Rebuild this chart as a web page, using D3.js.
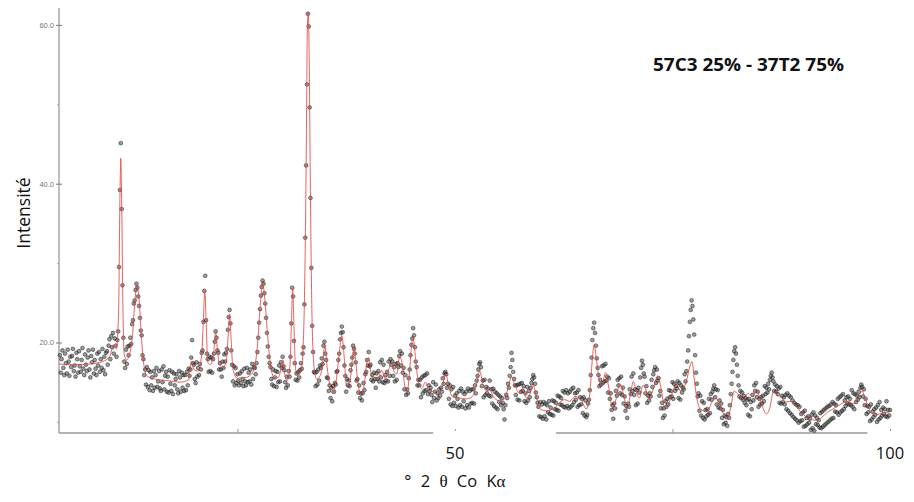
<!DOCTYPE html>
<html><head><meta charset="utf-8">
<script src="https://cdn.jsdelivr.net/npm/d3@7"></script>
<style>body{margin:0;background:#fff}svg{display:block}</style>
</head><body><svg id="c" width="914" height="502"></svg>
<script>
// ---------- DATA ----------
const chartTitle = "57C3 25% - 37T2 75%";
const yLabel = "Intensité";
const yTicks = [20, 40, 60];
const yMinorTicks = [10, 30, 50];
const xTicks = [25, 50, 75, 100];
const xTickLabels = [50, 100];

// calculated profile (red line): [2θ, intensity]
const calcProfile = [
[4.5,17.3],[6,17.2],[8,17.3],[9.5,17.6],[10.3,18.2],[10.8,19.6],[11.1,19.2],[11.35,24],[11.5,38],[11.6,43.2],[11.7,38],[11.85,24],
[12.0,18.5],[12.25,17.8],[12.6,18.5],[12.95,21],[13.2,25],[13.45,27.1],[13.7,25.5],[13.95,21],[14.25,17.2],[14.6,15.8],[15.5,15.4],
[17,15.2],[18.5,15.0],[19.4,15.3],[19.7,17.6],[20.0,16.6],[20.5,16.4],[20.9,18.5],[21.1,23],[21.25,26.5],[21.4,23],[21.6,17.5],
[21.9,17.2],[22.3,19],[22.5,21.3],[22.7,19.2],[22.9,17.4],[23.3,16.8],[23.7,17.5],[23.95,21],[24.1,23.6],[24.25,21],[24.5,16.6],
[25,15.5],[26,15.6],[26.8,16.3],[27.3,19.5],[27.65,25],[27.9,27.5],[28.15,25.5],[28.5,20.5],[28.9,16.5],[29.3,15.5],[29.7,15.6],
[30.05,16.8],[30.25,17.8],[30.45,16.0],[30.7,15.2],[31.0,16.5],[31.2,22],[31.35,26.8],[31.5,22],[31.7,16.5],[32.0,15.8],[32.4,17],
[32.7,25],[32.9,42],[33.05,60],[33.15,61.5],[33.25,56],[33.4,38],[33.6,22],[33.85,16.5],[34.1,15.4],[34.5,15.8],[34.8,17.2],
[35.05,19.7],[35.3,17.0],[35.6,14.8],[35.9,13.6],[36.3,14.8],[36.7,18.5],[37.0,20.9],[37.25,18.5],[37.55,14.5],[37.9,14.8],
[38.2,17.8],[38.4,19.4],[38.6,17.5],[38.9,14.6],[39.2,13.3],[39.6,14.8],[39.9,17.6],[40.1,18.1],[40.35,16.2],[40.7,15.4],
[41.2,15.6],[41.6,16.5],[42.0,15.4],[42.4,16.6],[42.75,17.5],[43.0,16.4],[43.3,16.0],[43.65,18.2],[43.9,17.6],[44.2,14.8],
[44.5,13.6],[44.8,16.5],[45.0,19.5],[45.2,20.6],[45.45,18.2],[45.8,15.0],[46.2,14.2],[46.6,15.0],[47.0,14.0],[47.5,13.8],
[48.0,13.5],[48.5,14.3],[48.95,16.0],[49.3,14.4],[49.7,13.2],[50.5,13.0],[51.3,12.9],[52.0,13.2],[52.5,14.8],[52.85,16.4],
[53.2,14.8],[53.6,13.9],[54.0,14.2],[54.4,13.2],[55.0,12.7],[55.6,12.8],[56.1,14.2],[56.5,15.7],[56.9,14.6],[57.4,13.6],
[57.8,14.2],[58.2,13.0],[58.6,13.5],[59.0,14.6],[59.4,13.0],[59.8,11.6],[60.5,11.4],[61.3,11.6],[62.0,12.4],[62.6,12.8],
[63.2,12.6],[63.8,13.2],[64.5,12.8],[65.1,11.6],[65.5,13.5],[65.8,18.0],[66.0,19.7],[66.25,18.0],[66.6,15.2],[66.9,14.5],
[67.3,16.2],[67.7,14.2],[68.1,11.8],[68.5,12.8],[68.95,14.8],[69.4,13.4],[69.8,11.6],[70.2,13.6],[70.5,15.1],[70.9,13.6],
[71.2,13.0],[71.6,14.6],[71.9,14.2],[72.3,12.9],[72.7,13.8],[73.3,15.8],[73.7,14.2],[74.1,11.8],[74.6,12.4],[75.0,13.7],
[75.5,14.8],[75.9,13.9],[76.3,14.2],[76.7,15.6],[77.0,17.0],[77.25,17.6],[77.5,15.4],[77.8,13.0],[78.2,11.6],[78.6,11.4],
[79.0,11.3],[79.5,12.4],[79.9,13.0],[80.3,12.6],[80.8,11.2],[81.3,10.4],[81.7,11.8],[82.1,13.9],[82.4,13.6],[82.8,13.2],
[83.2,12.8],[83.7,13.6],[84.2,13.2],[84.7,13.9],[85.2,12.4],[85.8,11.0],[86.2,11.8],[86.6,13.8],[87.0,13.4],[87.5,13.1],
[88.0,12.5],[88.6,12.6],[89.2,11.9],[89.8,11.2],[90.4,10.6],[91.0,10.3],[91.6,10.2],[92.2,10.6],[92.8,11.2],[93.4,11.6],
[94.0,12.0],[94.6,12.4],[95.2,12.6],[95.8,12.3],[96.3,12.9],[96.8,13.9],[97.1,13.1],[97.6,11.6],[98.2,10.9],[98.8,11.0],
[99.4,11.2],[100,11.0]
];

// observed intensities, 2θ from 4.6 in steps of 0.1
const obsStart = 4.6, obsStep = 0.1;
const obsInt = [
18.4,16.2,17.9,19.0,
16.8,15.9,18.6,17.4,16.1,19.1,17.6,15.8,18.2,16.9,
18.3,19.2,16.4,17.1,15.7,18.7,17.9,16.2,18.9,17.0,
16.3,17.8,19.3,16.7,15.9,18.5,17.2,16.4,18.1,19.0,
16.6,15.6,18.3,17.5,19.1,16.1,17.8,16.7,15.9,18.6,
17.1,18.8,16.3,17.9,16.8,19.2,16.5,18.2,16.0,18.7,
18.9,17.2,19.6,20.4,17.9,20.8,19.4,21.2,18.6,20.5,
19.6,18.2,20.3,21.4,29.5,39.2,45.1,36.8,27.2,20.6,
17.6,16.8,19.1,17.3,19.5,18.4,19.6,20.6,19.8,22.3,
22.8,24.9,25.3,26.6,27.4,26.9,25.8,24.6,23.1,21.5,
20.9,18.4,17.9,15.9,16.6,14.7,16.9,14.4,16.5,14.0,
16.3,14.6,15.6,13.9,16.4,14.3,15.9,16.8,14.4,15.1,
16.4,14.2,13.9,16.6,15.0,17.0,14.1,15.8,16.3,13.8,
15.7,13.7,16.5,14.8,13.9,16.3,13.5,16.1,14.6,15.4,
16.0,14.1,13.6,16.4,15.6,13.8,16.2,14.3,15.9,13.9,
15.9,14.0,16.3,14.6,16.7,15.8,16.6,18.1,20.3,17.4,
17.2,15.4,14.9,17.5,15.7,16.8,15.9,17.3,16.6,18.7,
19.0,22.6,26.5,28.4,22.8,18.6,17.9,16.3,18.2,16.4,
18.1,16.2,17.9,18.6,20.1,21.4,20.6,19.0,18.7,16.6,
17.4,16.6,15.7,17.6,16.8,18.5,17.6,18.7,19.2,21.6,
23.2,24.1,22.4,19.0,17.2,15.1,17.0,14.6,16.8,14.9,
16.0,15.2,14.6,16.1,14.9,16.4,15.4,14.5,16.7,15.1,
14.6,16.8,15.0,16.2,15.1,16.6,14.7,17.3,15.4,16.9,
16.8,16.0,17.4,18.8,20.6,22.5,24.2,25.9,27.0,27.8,
27.4,26.2,24.9,23.1,21.2,19.5,18.2,17.4,16.9,15.4,
14.7,16.6,14.5,15.6,16.4,14.4,16.3,15.0,17.1,15.1,
17.5,16.8,18.2,17.0,16.5,15.0,14.3,15.7,14.6,16.4,
15.7,18.2,22.4,26.9,25.8,20.2,17.4,15.3,16.1,15.2,
16.3,15.6,16.5,17.4,16.7,18.6,19.4,24.8,33.2,42.3,
52.5,61.4,59.8,49.6,38.2,29.4,22.1,18.8,16.3,16.2,
14.5,16.3,14.7,16.6,15.2,17.1,16.8,18.0,17.3,19.6,
20.1,18.6,17.8,15.6,15.5,13.9,14.6,13.0,14.3,12.6,
14.5,13.8,14.9,14.7,16.3,16.4,17.8,18.6,20.4,21.2,
22.0,21.3,19.4,17.1,15.8,13.8,15.4,14.6,15.2,14.5,
16.5,17.2,18.1,19.6,19.2,18.6,17.5,15.2,15.4,13.7,
14.6,13.0,13.6,12.7,13.6,14.9,14.0,16.0,16.3,17.8,
17.1,18.8,17.0,17.2,15.3,15.9,15.1,16.2,15.4,14.3,
16.1,15.4,16.4,15.1,17.5,15.6,17.8,15.0,17.2,14.9,
15.9,15.2,16.3,15.1,17.6,15.8,17.9,17.2,17.6,15.8,
16.9,15.1,17.3,15.3,17.4,16.9,18.3,18.9,17.1,18.6,
16.2,16.8,14.1,15.9,13.4,14.1,13.6,15.5,16.6,18.4,
19.7,20.5,21.8,20.9,19.4,17.6,16.9,14.6,15.3,14.6,
15.3,13.1,15.6,13.6,15.8,13.9,15.9,14.0,16.1,13.5,
14.6,13.9,14.3,13.4,12.5,15.0,13.0,13.8,14.7,12.7,
13.6,13.0,14.1,13.3,14.3,13.8,15.5,14.8,16.1,16.3,
16.0,14.3,14.8,12.9,14.6,12.2,14.1,12.0,14.4,12.4,
13.3,12.0,13.6,12.9,11.8,13.9,12.1,14.2,11.9,13.8,
12.6,13.5,11.7,13.8,12.1,14.2,11.8,13.9,12.3,14.1,
12.4,14.1,12.3,14.6,13.6,15.2,15.8,16.6,17.3,17.5,
16.9,14.5,15.2,13.1,15.3,13.4,14.4,13.6,14.2,13.3,
15.2,13.2,14.1,12.3,14.2,12.0,13.8,11.8,13.6,11.6,
13.4,12.5,13.2,12.1,13.0,12.4,11.6,10.3,12.1,13.4,
13.0,14.8,14.3,15.8,16.9,18.7,17.8,16.3,15.4,14.6,
13.4,14.6,12.8,14.7,12.7,14.8,13.8,14.9,13.9,14.5,
12.6,13.6,12.4,14.4,12.7,13.9,13.1,14.3,14.9,15.4,
15.9,15.6,14.8,13.7,13.1,12.4,11.9,10.7,12.5,10.6,
12.2,10.4,12.5,10.7,12.3,10.3,12.1,11.2,12.6,11.0,
11.8,10.9,12.7,10.8,12.6,11.6,12.4,11.5,13.3,11.4,
13.2,12.2,13.0,12.1,13.9,11.9,13.7,11.8,14.0,12.0,
13.6,11.7,13.8,11.9,14.1,12.1,14.3,12.5,13.6,12.8,
13.7,11.9,14.0,12.1,13.1,12.2,12.9,11.1,13.1,10.8,
12.7,10.6,10.9,12.3,12.8,14.0,15.9,18.1,20.3,21.8,
22.5,21.2,19.6,18.0,16.8,15.9,14.5,15.3,14.7,17.0,
14.9,17.1,15.1,17.3,15.2,15.7,13.7,15.5,12.9,13.6,
11.5,12.1,10.4,12.3,11.7,13.9,13.3,15.3,14.6,15.5,
13.6,15.7,13.4,14.3,12.3,13.2,11.4,12.0,10.5,12.3,
11.9,14.1,13.5,15.7,13.9,16.1,13.4,14.1,12.1,14.0,
12.3,14.3,13.7,15.6,16.8,17.7,17.2,16.1,15.7,13.6,
14.5,12.4,13.3,12.7,13.6,13.2,15.3,14.4,16.0,16.5,
16.9,14.9,16.6,15.2,15.5,13.3,13.9,11.7,12.4,10.5,
11.7,10.8,12.6,11.9,12.9,12.2,14.0,13.1,13.9,13.2,
15.0,12.9,14.8,13.9,14.5,14.2,15.1,13.0,14.9,12.8,
14.6,13.7,14.3,14.1,16.0,15.1,16.4,17.6,19.0,20.8,
22.6,24.1,25.3,24.6,22.9,21.0,18.4,16.2,14.8,13.2,
13.6,11.4,13.3,10.8,12.6,10.5,12.4,10.3,11.5,10.7,
11.6,10.9,12.9,11.1,13.5,12.8,13.8,14.2,14.6,13.1,
14.1,12.2,14.0,11.8,12.7,11.7,12.3,10.5,11.5,9.7,
10.8,9.9,10.6,9.5,11.0,10.5,12.1,13.5,14.8,16.3,
17.8,18.9,19.4,18.6,17.2,15.8,14.6,13.2,13.9,13.0,
13.7,12.8,13.3,12.4,13.0,12.1,12.8,10.9,12.9,10.7,
12.5,11.6,13.4,12.7,14.6,13.9,14.9,13.1,13.8,11.9,
12.9,12.2,13.1,12.3,13.3,12.6,14.5,13.5,14.3,13.7,
14.8,14.1,15.3,15.8,16.2,15.6,15.1,13.9,14.7,13.8,
14.5,13.5,14.2,12.4,14.4,12.3,13.3,12.5,13.1,12.2,
13.4,11.6,13.6,11.4,13.3,11.1,13.1,10.9,12.7,10.6,
12.4,10.4,12.2,10.2,12.1,9.9,11.9,10.1,11.0,10.2,
11.2,9.4,11.4,9.5,10.5,9.7,10.7,9.9,10.4,9.0,
10.9,9.2,11.2,8.9,10.8,9.7,10.5,9.6,10.2,9.3,
11.1,9.2,11.3,9.4,11.5,9.6,11.7,9.8,11.9,10.0,
12.0,10.2,12.2,10.4,12.5,10.5,12.3,11.3,12.1,11.2,
12.9,10.9,13.1,11.2,13.3,11.4,13.5,11.6,12.7,12.0,
13.1,12.3,13.2,12.2,12.9,12.1,14.0,11.9,13.6,11.6,
13.5,12.5,13.3,12.8,13.8,13.1,14.3,14.7,14.4,13.2,
14.1,12.1,12.9,11.0,12.0,11.2,11.9,10.1,12.2,10.3,
11.3,10.6,11.6,10.9,11.8,10.0,12.1,10.3,12.5,10.5,
11.5,10.8,11.8,11.0,11.6,10.7,12.6,10.6,11.5,10.8,
11.5
];

// ---------- DRAWING ----------
const svg = d3.select("#c");
const x = d3.scaleLinear().domain([4.5, 100]).range([59, 890]);
const y = d3.scaleLinear().domain([8.6, 62]).range([433, 9]);

const obs = obsInt.map((v, i) => ({t: obsStart + i * obsStep, v}));

// y axis
const yAx = svg.append("g").attr("transform", "translate(59,0)");
yAx.append("line").attr("x1", 0).attr("x2", 0).attr("y1", 8).attr("y2", 433)
  .attr("stroke", "#9a9a9a").attr("stroke-width", 1.3);
const yg = yAx.append("g").call(d3.axisLeft(y).tickValues(yTicks).tickSize(3).tickPadding(2).tickFormat(d3.format(".1f")));
yg.select(".domain").remove();
yg.selectAll(".tick line").attr("stroke", "#777").attr("x2", 3).attr("x1", -3);
yg.selectAll("text").attr("fill", "#777").attr("font-size", 7.5).attr("font-family", "Liberation Sans, Arial, sans-serif");
const ym = yAx.append("g").call(d3.axisLeft(y).tickValues(yMinorTicks).tickSize(2).tickFormat(""));
ym.select(".domain").remove();
ym.selectAll(".tick line").attr("stroke", "#aaa");

// x axis
const xg = svg.append("g").attr("transform", "translate(0,433)")
  .call(d3.axisBottom(x).tickValues(xTicks).tickSize(-4).tickFormat(""));
xg.select(".domain").attr("d", `M${x(4.5)},0H${x(100)}`).attr("stroke", "#9a9a9a").attr("stroke-width", 1.5);
xg.selectAll(".tick line").attr("stroke", "#999");
// white gaps in the x-axis line (as in the source image)
[[47.5, 61.6], [97.4, 102]].forEach(g => {
  svg.append("rect").attr("x", x(g[0])).attr("y", 431).attr("width", x(g[1]) - x(g[0])).attr("height", 5).attr("fill", "#fff");
});

// observed points
svg.append("g").selectAll("circle").data(obs).join("circle")
  .attr("cx", d => x(d.t)).attr("cy", d => y(d.v)).attr("r", 1.9)
  .attr("fill", "#3a3a3a").attr("fill-opacity", 0.5)
  .attr("stroke", "#1a1a1a").attr("stroke-opacity", 0.7).attr("stroke-width", 0.7);

// calculated line
svg.append("path").datum(calcProfile)
  .attr("d", d3.line().x(d => x(d[0])).y(d => y(d[1])).curve(d3.curveMonotoneX))
  .attr("fill", "none").attr("stroke", "#e4463f").attr("stroke-width", 1).attr("stroke-opacity", 0.85);

// x tick labels
svg.append("g").selectAll("text").data(xTickLabels).join("text")
  .attr("x", d => x(d)).attr("y", 459).attr("text-anchor", "middle")
  .attr("font-family", "Open Sans, sans-serif").attr("font-size", 16.5).attr("fill", "#111")
  .text(d => d);

// x title
const xt = svg.append("text").attr("x", x(50)).attr("y", 487).attr("text-anchor", "middle")
  .attr("font-family", "Open Sans, sans-serif").attr("font-size", 16.5).attr("fill", "#111")
  .attr("word-spacing", 5);
xt.append("tspan").text("° 2 ");
xt.append("tspan").attr("font-family", "Liberation Serif, serif").attr("font-size", 17).text("θ");
xt.append("tspan").text(" Co K");
xt.append("tspan").attr("font-family", "Liberation Serif, serif").attr("font-size", 17).text("α");

// y title
svg.append("text").attr("transform", "translate(30,213) rotate(-90)").attr("text-anchor", "middle")
  .attr("font-family", "Open Sans, sans-serif").attr("font-size", 17.5).attr("fill", "#111").text(yLabel);

// chart title
svg.append("text").attr("x", 653).attr("y", 71)
  .attr("font-family", "Open Sans, sans-serif").attr("font-weight", "bold").attr("font-size", 18).attr("fill", "#111")
  .attr("textLength", 191).attr("lengthAdjust", "spacingAndGlyphs")
  .text(chartTitle);
</script></body></html>
